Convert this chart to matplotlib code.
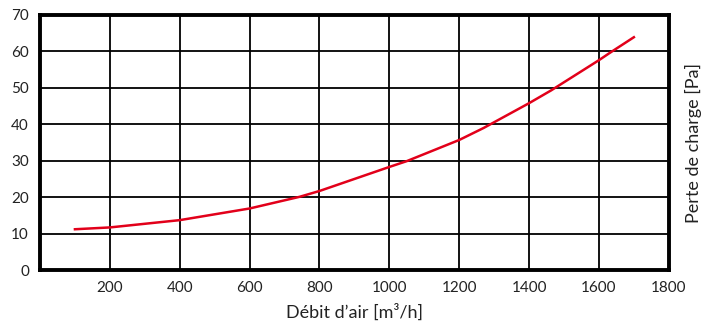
import matplotlib
matplotlib.use("Agg")
import matplotlib.pyplot as plt

# air flow [m3/h] vs pressure drop [Pa]
debit = [100, 200, 400, 600, 743, 800, 1000, 1050, 1200, 1270, 1400, 1463, 1600, 1631, 1700]
perte = [11.2, 11.7, 13.7, 16.9, 20.1, 21.7, 28.3, 29.9, 35.7, 39.0, 45.8, 49.3, 57.6, 59.6, 63.9]

x_ticks = [200, 400, 600, 800, 1000, 1200, 1400, 1600, 1800]
y_ticks = [0, 10, 20, 30, 40, 50, 60, 70]

plt.rcParams["font.family"] = ["Lato", "DejaVu Sans"]

fig = plt.figure(figsize=(7.17, 3.33), dpi=100)
ax = fig.add_axes([0.0558, 0.189, 0.877, 0.766])

ax.plot(debit, perte, color="#e2001a", lw=1.8, zorder=3, solid_joinstyle="round")

ax.set_xlim(0, 1800)
ax.set_ylim(0, 70)
ax.set_xticks(x_ticks)
ax.set_yticks(y_ticks)
ax.tick_params(length=0, labelsize=11, pad=8, colors="#222222")
ax.grid(True, color="black", lw=1.3)
for s in ax.spines.values():
    s.set_linewidth(2.8)
    s.set_color("black")

ax.set_xlabel("Débit d’air [m³/h]", fontsize=13, color="#222222", labelpad=6)
ax.yaxis.set_label_position("right")
ax.set_ylabel("Perte de charge [Pa]", fontsize=13, color="#222222", labelpad=12)

fig.savefig("out.png", dpi=100)
